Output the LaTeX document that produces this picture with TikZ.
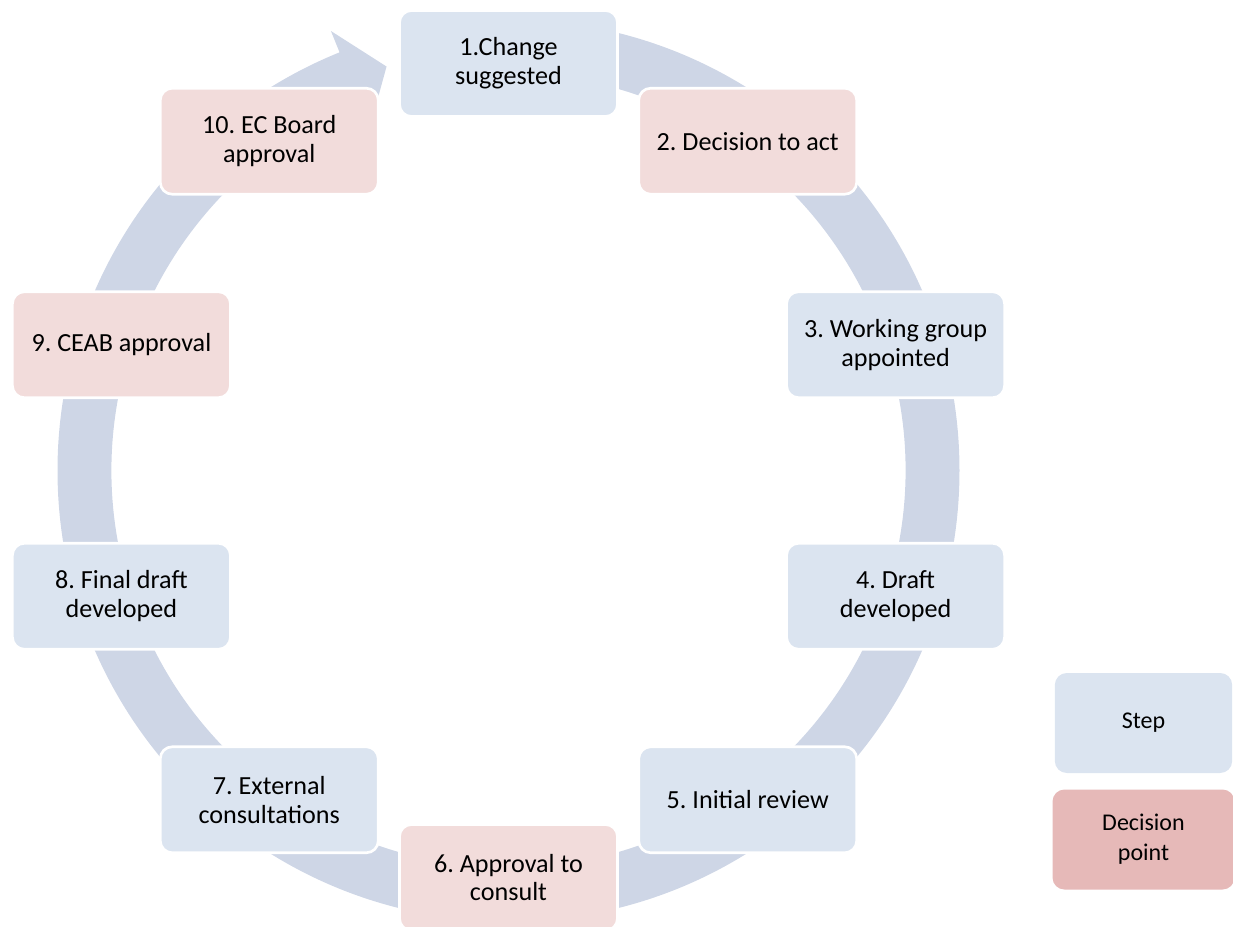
\documentclass[tikz,border=0pt]{standalone}
\usepackage{fontspec}
\setmainfont{Carlito}
\usetikzlibrary{positioning}
\definecolor{stepblue}{RGB}{219,228,240}
\definecolor{decisionpink}{RGB}{242,220,219}
\definecolor{legendpink}{RGB}{230,185,184}
\definecolor{ringgray}{RGB}{206,214,230}
\frenchspacing

\begin{document}
\begin{tikzpicture}[x=0.75pt, y=0.75pt,
    stage/.style={rectangle, rounded corners=9pt, draw=white, line width=2pt,
        minimum width=163.5pt, minimum height=79.5pt,
        align=center, inner sep=0pt, font=\fontsize{19.6}{21.5}\selectfont},
    stepbox/.style={stage, fill=stepblue},
    decisionbox/.style={stage, fill=decisionpink},
    legendbox/.style={rectangle, rounded corners=9pt, minimum height=75pt,
        align=center, inner sep=0pt, font=\fontsize{18}{22.5}\selectfont}]
\useasboundingbox (0,0) rectangle (1233,-927);
\coordinate (center) at (508.5,-470.5);

\begin{scope}[shift={(center)}]
% Ring arrow
\fill[ringgray] (90:451) arc[start angle=90, end angle=-248, radius=451]
    -- (-248:474) -- (-253.2:422) -- (-248:370) -- (-248:397)
    arc[start angle=-248, end angle=90, radius=397] -- cycle;

% Nodes
\node[stepbox] (stage1) at (90:407) {1.Change\\suggested};
\node[decisionbox] (stage2) at (54:407) {2. Decision to act};
\node[stepbox] (stage3) at (18:407) {3. Working group\\appointed};
\node[stepbox] (stage4) at (-18:407) {4. Draft\\developed};
\node[stepbox] (stage5) at (-54:407) {5. Initial review};
\node[decisionbox] (stage6) at (-90:407) {6. Approval to\\consult};
\node[stepbox] (stage7) at (-126:407) {7. External\\consultations};
\node[stepbox] (stage8) at (-162:407) {8. Final draft\\developed};
\node[decisionbox] (stage9) at (-198:407) {9. CEAB approval};
\node[decisionbox] (stage10) at (-234:407) {10. EC Board\\approval};
\end{scope}

% Legend
\node[legendbox, fill=stepblue, minimum width=133pt] (legendstep) at (1143.5,-723) {Step};
\node[legendbox, fill=legendpink, minimum width=136.5pt, below=12pt of legendstep] (legenddecision) {Decision\\point};
\end{tikzpicture}
\end{document}
